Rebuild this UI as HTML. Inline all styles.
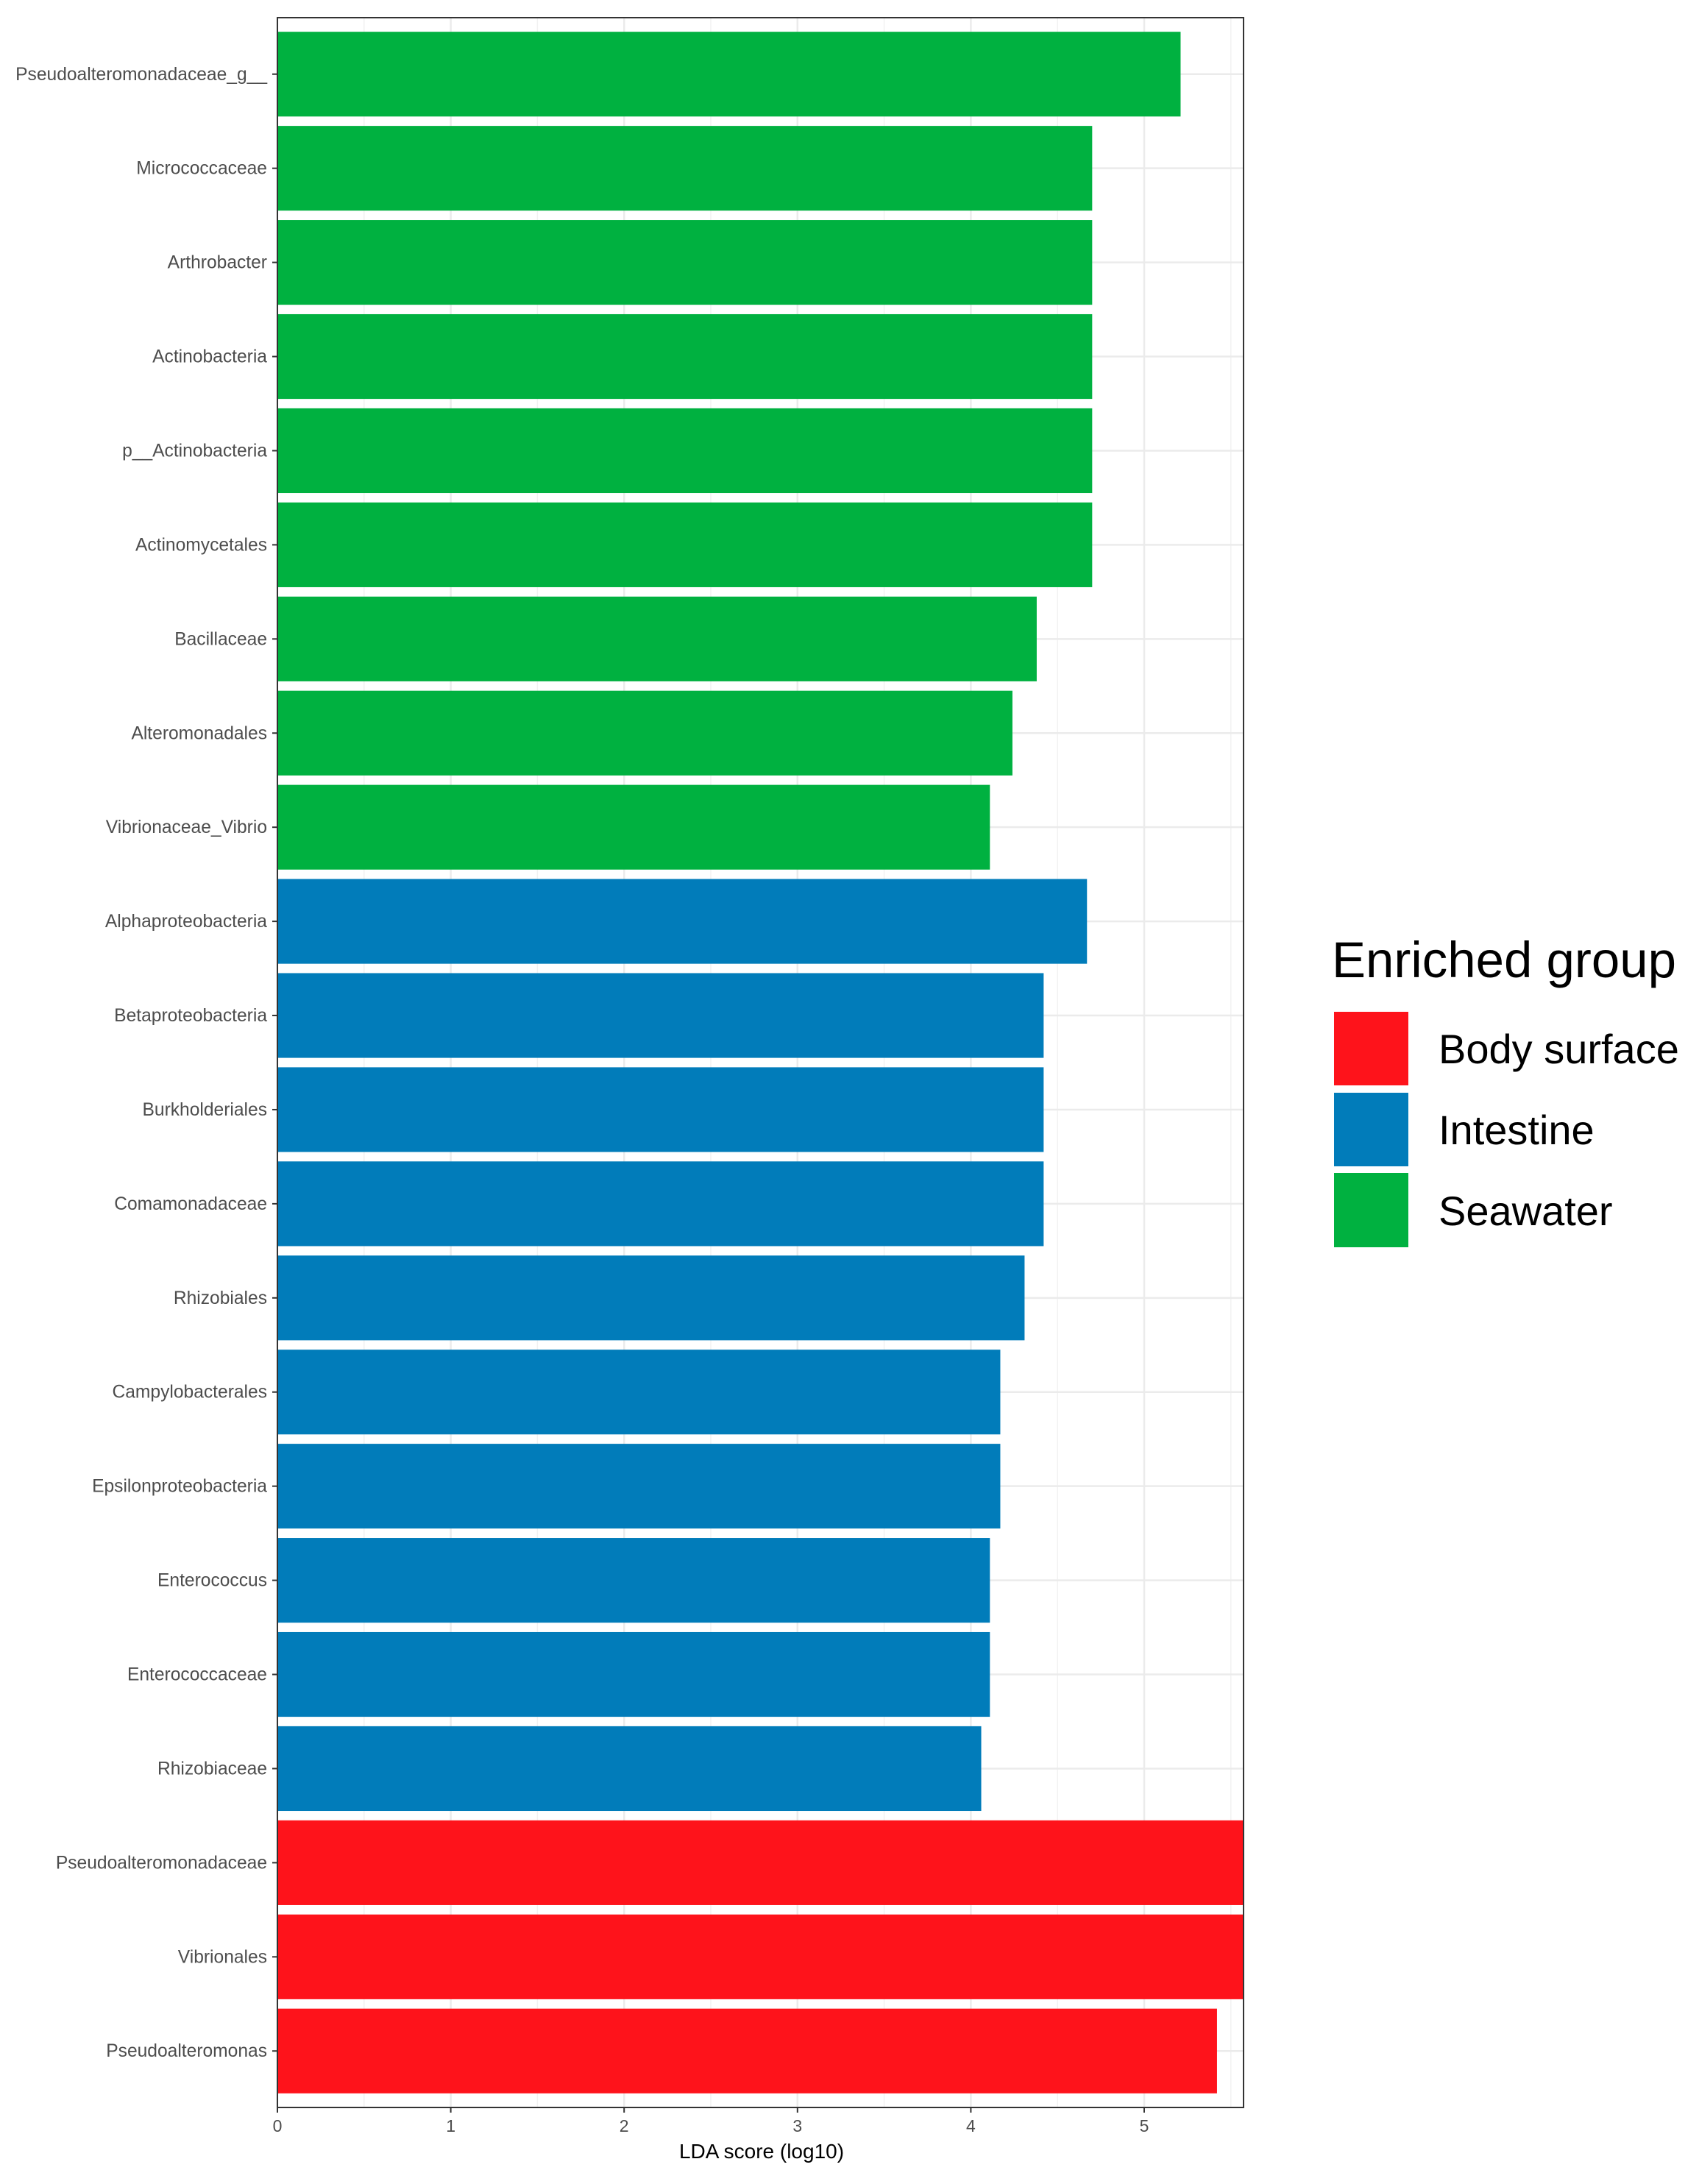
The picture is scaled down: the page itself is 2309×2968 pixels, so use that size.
<!DOCTYPE html>
<html><head><meta charset="utf-8"><style>html,body{margin:0;padding:0;background:#fff}svg{display:block}</style></head>
<body>
<svg id="chart" width="2309" height="2968" viewBox="0 0 2309 2968" xmlns="http://www.w3.org/2000/svg" font-family="Liberation Sans, Arial, sans-serif">
<rect x="0" y="0" width="2309" height="2968" fill="#fff"/>
<g id="grid"></g><g id="bars"></g><g id="yaxis"></g><g id="xaxis"></g>
<rect x="377" y="24" width="1313" height="2840" fill="none" stroke="#333" stroke-width="2"/>
<text x="1035" y="2933" font-size="28" text-anchor="middle" fill="#000">LDA score (log10)</text>
<g>
<text x="1810" y="1328" font-size="69" fill="#000">Enriched group</text>
<rect x="1813" y="1375" width="101" height="100" fill="#fe131b"/>
<rect x="1813" y="1485" width="101" height="100" fill="#017cba"/>
<rect x="1813" y="1594" width="101" height="101" fill="#00b140"/>
<text x="1955" y="1445" font-size="56" fill="#000">Body surface</text>
<text x="1955" y="1555" font-size="56" fill="#000">Intestine</text>
<text x="1955" y="1665" font-size="56" fill="#000">Seawater</text>
</g>
</svg>
<script>
const categories = ["Pseudoalteromonadaceae_g__","Micrococcaceae","Arthrobacter","Actinobacteria","p__Actinobacteria","Actinomycetales","Bacillaceae","Alteromonadales","Vibrionaceae_Vibrio","Alphaproteobacteria","Betaproteobacteria","Burkholderiales","Comamonadaceae","Rhizobiales","Campylobacterales","Epsilonproteobacteria","Enterococcus","Enterococcaceae","Rhizobiaceae","Pseudoalteromonadaceae","Vibrionales","Pseudoalteromonas"];
const values = [5.21,4.70,4.70,4.70,4.70,4.70,4.38,4.24,4.11,4.67,4.42,4.42,4.42,4.31,4.17,4.17,4.11,4.11,4.06,5.65,5.65,5.42];
const groups = ["Seawater","Seawater","Seawater","Seawater","Seawater","Seawater","Seawater","Seawater","Seawater","Intestine","Intestine","Intestine","Intestine","Intestine","Intestine","Intestine","Intestine","Intestine","Intestine","Body surface","Body surface","Body surface"];
const xTicks = [0,1,2,3,4,5];
const xTickLabels = ["0","1","2","3","4","5"];

const NS="http://www.w3.org/2000/svg";
const L=377,R=1690,T=24,B=2864;
const unit=235.6;
const xs=v=>L+v*unit;
const band=(B-T)/(categories.length-1+1.2);
const yc=i=>T+(0.6+i)*band;
const colors={"Seawater":"#00b140","Intestine":"#017cba","Body surface":"#fe131b"};
function mk(tag,attrs,parent){const e=document.createElementNS(NS,tag);for(const k in attrs)e.setAttribute(k,attrs[k]);parent.appendChild(e);return e;}
const grid=document.getElementById('grid'),bars=document.getElementById('bars'),ya=document.getElementById('yaxis'),xa=document.getElementById('xaxis');
for(let v=0.5;xs(v)<R;v+=1){const g=mk('line',{x1:xs(v),x2:xs(v),y1:T,y2:B,stroke:'#f2f2f2','stroke-width':1.5},grid);

}
xTicks.forEach((t,i)=>{const g=mk('line',{x1:xs(t),x2:xs(t),y1:T,y2:B,stroke:'#ebebeb','stroke-width':2.5},grid);


const tk=mk('line',{x1:xs(t),x2:xs(t),y1:B,y2:B+7,stroke:'#333','stroke-width':2},xa);


const tl=mk('text',{x:xs(t),y:B+33,'font-size':23,'text-anchor':'middle',fill:'#4d4d4d'},xa);
tl.textContent=xTickLabels[i];

});
categories.forEach((c,i)=>{const y=yc(i);
const g=mk('line',{x1:L,x2:R,y1:y,y2:y,stroke:'#ebebeb','stroke-width':2.5},grid);


const w=Math.min(xs(values[i]),R)-L;
const b=mk('rect',{x:L,y:y-band*0.45,width:w,height:band*0.9,fill:colors[groups[i]]},bars);


const tk=mk('line',{x1:L-7,x2:L,y1:y,y2:y,stroke:'#333','stroke-width':2},ya);


const tl=mk('text',{x:L-14,y:y+8,'font-size':24.6,'text-anchor':'end',fill:'#4d4d4d'},ya);
tl.textContent=c;

});
</script>
</body></html>
